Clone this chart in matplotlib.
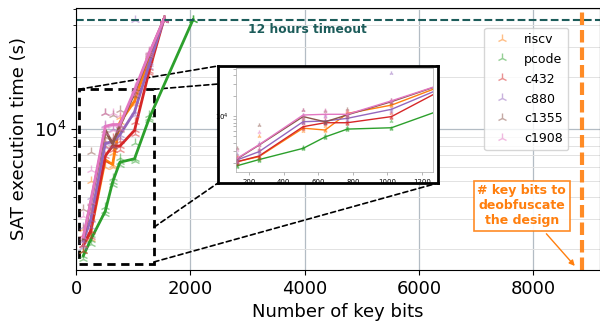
import numpy as np
import matplotlib
matplotlib.use("Agg")
import matplotlib.pyplot as plt
from matplotlib.patches import Rectangle, ConnectionPatch
from matplotlib.ticker import NullFormatter

# key sizes that were tried
key_bits = [128, 256, 512, 640, 768, 1024, 1280, 1536]
key_bits_pcode = [128, 256, 512, 640, 768, 1024, 1280, 2048]

# SAT time (s): median line, fastest and slowest run per key size
riscv_med = [2100, 2500, 6600, 6200, 10900, 14500, 25700, 43200]
riscv_hi = [2600, 5000, 8500, 7200, 11800, 15500, 26500, 43200]
riscv_lo = [1950, 2300, 6000, 6000, 10000, 14000, 25000, 43200]

pcode_med = [1830, 2260, 3320, 4900, 6400, 6700, 11500, 43200]
pcode_hi = [1950, 2400, 3500, 5200, 6800, 8300, 12000, 43200]
pcode_lo = [1750, 2150, 3200, 4700, 6200, 6500, 11200, 43200]

c432_med = [2100, 2550, 6950, 7950, 7950, 9800, 21700, 43200]
c432_hi = [2400, 3000, 8000, 8800, 8500, 11000, 22500, 43200]
c432_lo = [1950, 2350, 6500, 7500, 7500, 9300, 21000, 43200]

c880_med = [2230, 2960, 8240, 8430, 9240, 12570, 23700, 43200]
c880_hi = [2700, 4000, 10500, 10000, 10500, 43200, 24500, 43200]
c880_lo = [2050, 2700, 7800, 8000, 8800, 12000, 23000, 43200]

c1355_med = [2300, 3700, 9800, 8200, 10400, 16300, 27200, 43200]
c1355_hi = [3400, 7300, 12400, 12000, 12900, 17000, 28000, 43200]
c1355_lo = [2100, 3300, 9000, 7800, 9800, 15500, 26500, 43200]

c1908_med = [2350, 3750, 10350, 10600, 10600, 16800, 27500, 43200]
c1908_hi = [3100, 5800, 12400, 12400, 12000, 17500, 28500, 43200]
c1908_lo = [2100, 3300, 9500, 9800, 10000, 16000, 26800, 43200]

names = ["riscv", "pcode", "c432", "c880", "c1355", "c1908"]
colors = ["#ff7f0e", "#2ca02c", "#d62728", "#9467bd", "#8c564b", "#e377c2"]
xs = [key_bits, key_bits_pcode, key_bits, key_bits, key_bits, key_bits]
meds = [riscv_med, pcode_med, c432_med, c880_med, c1355_med, c1908_med]
his = [riscv_hi, pcode_hi, c432_hi, c880_hi, c1355_hi, c1908_hi]
los = [riscv_lo, pcode_lo, c432_lo, c880_lo, c1355_lo, c1908_lo]

timeout = 43200  # 12 hours
deobf_bits = 8850
zoom_box = (52, 1365, 1633, 17000)  # x0, x1, y0, y1 of the dashed box
orange = "#ff7f0e"
teal = "#1c5c5a"


def draw_series(ax, lw, ms):
    handles = []
    for name, c, x, m, hi, lo in zip(names, colors, xs, meds, his, los):
        ax.plot(x, m, color=c, lw=lw)
        h, = ax.plot(x, m, ls="none", marker="2", ms=ms, color=c, alpha=0.5, label=name)
        ax.plot(x, hi, ls="none", marker="2", ms=ms, color=c, alpha=0.5)
        ax.plot(x, lo, ls="none", marker="2", ms=ms, color=c, alpha=0.5)
        handles.append(h)
    return handles


fig = plt.figure(figsize=(6, 3.22), dpi=100)
ax = fig.add_axes([0.1267, 0.1615, 0.8733, 0.8137])
ax.set_yscale("log")
ax.set_xlim(0, 9170)
ax.set_ylim(1510, 50500)
ax.set_xticks([0, 2000, 4000, 6000, 8000])
ax.yaxis.set_minor_formatter(NullFormatter())
ax.grid(which="major", color="#b3bcc4", lw=0.9)
ax.grid(which="minor", axis="y", color="#e2e2e2", lw=0.7)
ax.set_axisbelow(True)
ax.tick_params(labelsize=13)
ax.set_xlabel("Number of key bits", fontsize=13)
ax.set_ylabel("SAT execution time (s)", fontsize=13)

handles = draw_series(ax, 2, 7)

ax.axhline(timeout, color=teal, ls="--", lw=1.5)
ax.text(3010, 37700, "12 hours timeout", color=teal, fontsize=8.8, fontweight="bold",
        ha="left", va="center")
ax.axvline(deobf_bits, color=orange, lw=3, ls=(0, (3, 1.2)), alpha=0.9)
ax.annotate("# key bits to\ndeobfuscate\nthe design", xy=(8761, 1550), xytext=(7800, 3566),
            ha="center", va="center", multialignment="center",
            color=orange, fontsize=9, fontweight="bold",
            bbox=dict(boxstyle="square,pad=0.3", fc="white", ec=orange, lw=1.2, alpha=0.9),
            arrowprops=dict(arrowstyle="-|>", mutation_scale=8, color=orange, lw=1))

ax.legend(handles=handles, loc="upper right", bbox_to_anchor=(0.939, 0.924),
          borderaxespad=0, fontsize=9, labelspacing=0.55, framealpha=0.8)

x0, x1, y0, y1 = zoom_box
ax.add_patch(Rectangle((x0, y0), x1 - x0, y1 - y0, fill=False, ec="black",
                       lw=2, ls=(0, (3, 2))))

# frame around the zoomed view and the zoomed view itself
frame = fig.add_axes([0.3633, 0.4317, 0.3667, 0.3634])
frame.set_xticks([])
frame.set_yticks([])
for s in frame.spines.values():
    s.set_linewidth(2)

ins = fig.add_axes([0.3933, 0.4668, 0.3288, 0.3211])
ins.set_yscale("log")
draw_series(ins, 1, 3)
ins.set_xlim(123, 1266)
ins.set_ylim(1497, 50900)
ins.set_xticks([200, 400, 600, 800, 1000, 1200])
ins.yaxis.set_minor_formatter(NullFormatter())
ins.tick_params(which="both", labelsize=5, length=2, width=0.5, color="#999999")
for s in ins.spines.values():
    s.set_linewidth(0.5)
    s.set_color("#aaaaaa")

conns = [((x0, y1), (0, 1)), ((x1, y1), (1, 1)), ((x1, 2680), (0, 0)), ((x1, y0 * 1.03), (1, 0))]
for pa, pb in conns:
    cp = ConnectionPatch(xyA=pa, coordsA=ax.transData, xyB=pb, coordsB=frame.transAxes,
                         color="black", lw=1.2, ls=(0, (3, 2)))
    ax.add_artist(cp)

fig.savefig("out.png", dpi=100)
